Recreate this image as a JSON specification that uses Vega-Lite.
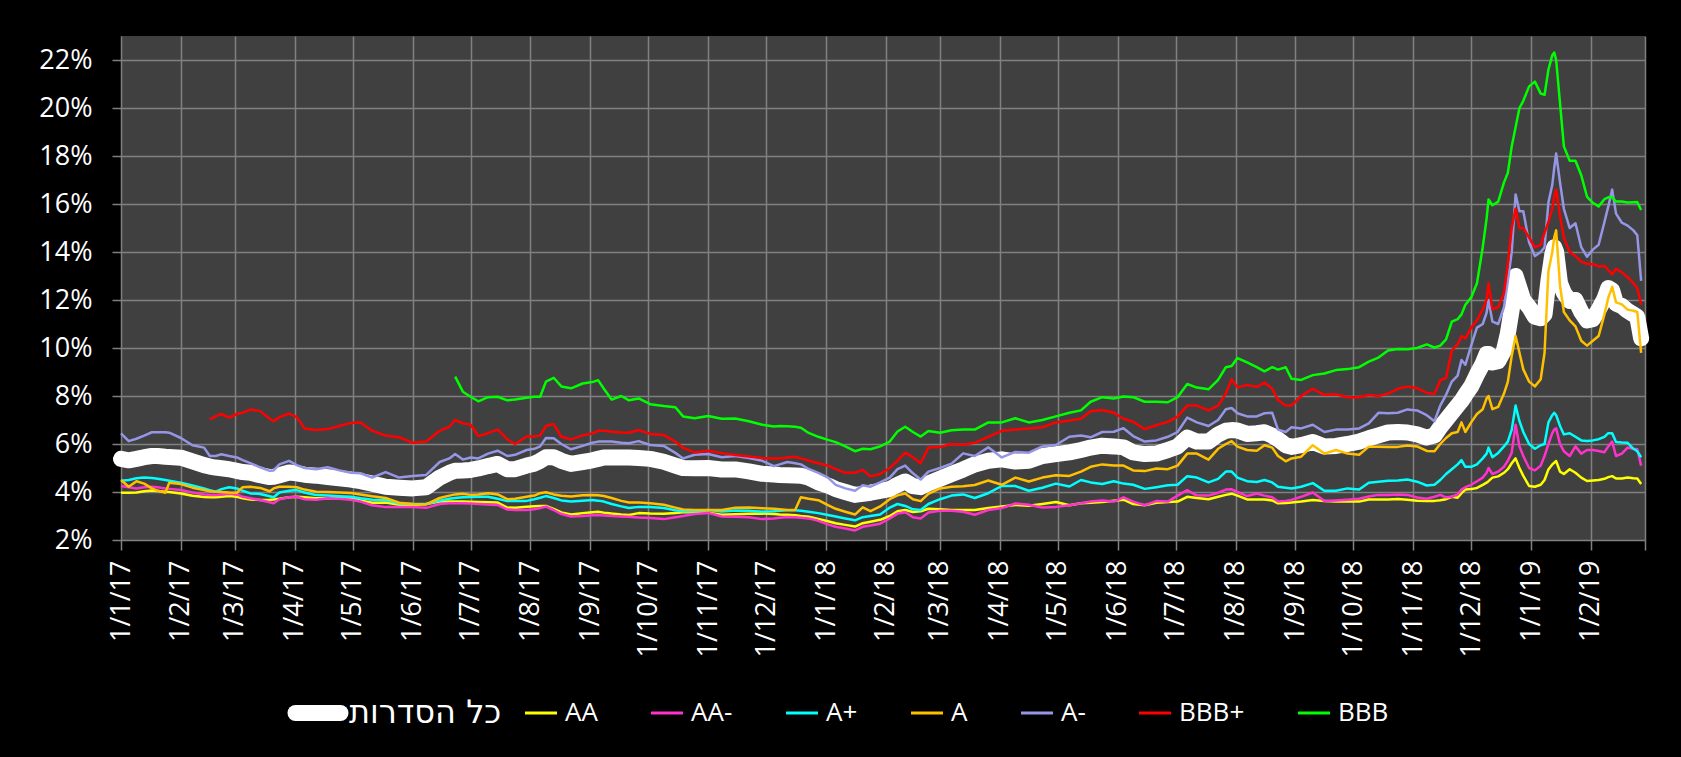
{
"$schema":"https://vega.github.io/schema/vega-lite/v6.json",
"width":1524,"height":504,
"autosize":{"type":"none"},
"padding":{"left":121,"top":36,"right":36,"bottom":217},
"background":"#000000",
"config":{
 "view":{"fill":"#404040","stroke":null},
 "font":"Open Sans",
 "axis":{"gridColor":"#808080","gridWidth":1.5,"gridOpacity":1,"tickColor":"#808080","tickWidth":1.5,"domain":false,"labelColor":"#ffffff","labelFont":"Open Sans","labelFontSize":27,"title":null}
},
"data":{"values":[
{"d":"2017-01-01","all":5.38,"AA":3.97,"AA-":4.25,"A+":4.47,"A":4.5,"A-":6.44},
{"d":"2017-01-05","all":5.32,"AA":3.97,"AA-":4.2,"A+":4.5,"A":4.22,"A-":6.12},
{"d":"2017-01-09","all":5.38,"AA":3.98,"AA-":4.15,"A+":4.57,"A":4.45,"A-":6.22},
{"d":"2017-01-13","all":5.45,"AA":4.03,"AA-":4.2,"A+":4.6,"A":4.35,"A-":6.35},
{"d":"2017-01-17","all":5.5,"AA":4.06,"AA-":4.22,"A+":4.58,"A":4.15,"A-":6.49},
{"d":"2017-01-20","all":5.5,"AA":4.04,"AA-":4.2,"A+":4.55,"A":4.05,"A-":6.49},
{"d":"2017-01-24","all":5.47,"AA":4.01,"AA-":4.15,"A+":4.5,"A":3.97,"A-":6.49},
{"d":"2017-01-26","all":5.46,"AA":4.0,"AA-":4.13,"A+":4.47,"A":4.39,"A-":6.47},
{"d":"2017-02-01","all":5.43,"AA":3.94,"AA-":4.08,"A+":4.39,"A":4.33,"A-":6.25},
{"d":"2017-02-07","all":5.28,"AA":3.84,"AA-":3.98,"A+":4.27,"A":4.18,"A-":5.95},
{"d":"2017-02-13","all":5.12,"AA":3.79,"AA-":3.9,"A+":4.15,"A":4.08,"A-":5.85},
{"d":"2017-02-16","all":5.06,"AA":3.78,"AA-":3.88,"A+":4.08,"A":4.03,"A-":5.5,"BBB+":7.03},
{"d":"2017-02-19","all":5.02,"AA":3.78,"AA-":3.87,"A+":4.01,"A":4.01,"A-":5.5,"BBB+":7.15},
{"d":"2017-02-22","all":4.99,"AA":3.8,"AA-":3.9,"A+":4.12,"A":4.0,"A-":5.57,"BBB+":7.25},
{"d":"2017-02-26","all":4.95,"AA":3.83,"AA-":3.93,"A+":4.2,"A":3.98,"A-":5.5,"BBB+":7.1},
{"d":"2017-03-02","all":4.88,"AA":3.8,"AA-":3.9,"A+":4.15,"A":3.97,"A-":5.44,"BBB+":7.25},
{"d":"2017-03-05","all":4.83,"AA":3.74,"AA-":3.8,"A+":4.05,"A":4.2,"A-":5.33,"BBB+":7.3},
{"d":"2017-03-09","all":4.8,"AA":3.69,"AA-":3.74,"A+":3.94,"A":4.22,"A-":5.2,"BBB+":7.44},
{"d":"2017-03-14","all":4.7,"AA":3.67,"AA-":3.67,"A+":3.92,"A":4.17,"A-":5.03,"BBB+":7.37},
{"d":"2017-03-19","all":4.62,"AA":3.68,"AA-":3.57,"A+":3.82,"A":4.03,"A-":4.88,"BBB+":7.05},
{"d":"2017-03-21","all":4.63,"AA":3.69,"AA-":3.53,"A+":3.78,"A":4.15,"A-":4.9,"BBB+":6.95},
{"d":"2017-03-24","all":4.7,"AA":3.72,"AA-":3.7,"A+":3.98,"A":4.22,"A-":5.15,"BBB+":7.12},
{"d":"2017-03-29","all":4.81,"AA":3.78,"AA-":3.78,"A+":4.05,"A":4.22,"A-":5.3,"BBB+":7.27},
{"d":"2017-04-02","all":4.78,"AA":3.8,"AA-":3.8,"A+":4.08,"A":4.2,"A-":5.12,"BBB+":7.12},
{"d":"2017-04-06","all":4.72,"AA":3.78,"AA-":3.7,"A+":3.98,"A":4.1,"A-":5.0,"BBB+":6.65},
{"d":"2017-04-12","all":4.68,"AA":3.74,"AA-":3.68,"A+":3.87,"A":4.01,"A-":4.95,"BBB+":6.58},
{"d":"2017-04-18","all":4.62,"AA":3.74,"AA-":3.74,"A+":3.85,"A":4.0,"A-":5.03,"BBB+":6.62},
{"d":"2017-04-24","all":4.57,"AA":3.74,"AA-":3.72,"A+":3.82,"A":3.98,"A-":4.9,"BBB+":6.75},
{"d":"2017-04-30","all":4.52,"AA":3.73,"AA-":3.68,"A+":3.8,"A":3.96,"A-":4.8,"BBB+":6.88},
{"d":"2017-05-05","all":4.45,"AA":3.65,"AA-":3.6,"A+":3.74,"A":3.9,"A-":4.78,"BBB+":6.9},
{"d":"2017-05-11","all":4.35,"AA":3.55,"AA-":3.45,"A+":3.68,"A":3.82,"A-":4.6,"BBB+":6.55},
{"d":"2017-05-18","all":4.22,"AA":3.56,"AA-":3.37,"A+":3.67,"A":3.75,"A-":4.83,"BBB+":6.35},
{"d":"2017-05-25","all":4.18,"AA":3.47,"AA-":3.38,"A+":3.52,"A":3.55,"A-":4.6,"BBB+":6.28},
{"d":"2017-06-01","all":4.15,"AA":3.46,"AA-":3.37,"A+":3.5,"A":3.5,"A-":4.67,"BBB+":6.05},
{"d":"2017-06-08","all":4.2,"AA":3.5,"AA-":3.34,"A+":3.5,"A":3.48,"A-":4.71,"BBB+":6.1},
{"d":"2017-06-15","all":4.6,"AA":3.6,"AA-":3.5,"A+":3.64,"A":3.75,"A-":5.25,"BBB+":6.55},
{"d":"2017-06-20","all":4.8,"AA":3.6,"AA-":3.53,"A+":3.72,"A":3.85,"A-":5.4,"BBB+":6.72},
{"d":"2017-06-23","all":4.89,"AA":3.6,"AA-":3.53,"A+":3.75,"A":3.9,"A-":5.58,"BBB+":7.0,"BBB":8.81},
{"d":"2017-06-27","all":4.9,"AA":3.6,"AA-":3.53,"A+":3.78,"A":3.93,"A-":5.35,"BBB+":6.86,"BBB":8.18},
{"d":"2017-07-01","all":4.92,"AA":3.59,"AA-":3.52,"A+":3.79,"A":3.88,"A-":5.44,"BBB+":6.8,"BBB":7.97},
{"d":"2017-07-05","all":4.98,"AA":3.58,"AA-":3.5,"A+":3.8,"A":3.9,"A-":5.4,"BBB+":6.33,"BBB":7.78},
{"d":"2017-07-10","all":5.08,"AA":3.57,"AA-":3.48,"A+":3.8,"A":3.95,"A-":5.6,"BBB+":6.45,"BBB":7.95},
{"d":"2017-07-15","all":5.17,"AA":3.56,"AA-":3.46,"A+":3.72,"A":3.9,"A-":5.72,"BBB+":6.6,"BBB":7.97},
{"d":"2017-07-20","all":4.95,"AA":3.35,"AA-":3.27,"A+":3.62,"A":3.7,"A-":5.5,"BBB+":6.2,"BBB":7.82},
{"d":"2017-07-24","all":4.95,"AA":3.34,"AA-":3.25,"A+":3.62,"A":3.72,"A-":5.55,"BBB+":6.0,"BBB":7.85},
{"d":"2017-07-30","all":5.1,"AA":3.39,"AA-":3.25,"A+":3.63,"A":3.8,"A-":5.75,"BBB+":6.31,"BBB":7.93},
{"d":"2017-08-03","all":5.18,"AA":3.41,"AA-":3.28,"A+":3.7,"A":3.85,"A-":5.8,"BBB+":6.31,"BBB":7.97},
{"d":"2017-08-06","all":5.3,"AA":3.42,"AA-":3.33,"A+":3.76,"A":3.95,"A-":5.9,"BBB+":6.36,"BBB":7.97},
{"d":"2017-08-09","all":5.45,"AA":3.42,"AA-":3.39,"A+":3.83,"A":3.99,"A-":6.25,"BBB+":6.75,"BBB":8.6},
{"d":"2017-08-13","all":5.45,"AA":3.3,"AA-":3.25,"A+":3.75,"A":3.9,"A-":6.24,"BBB+":6.83,"BBB":8.76},
{"d":"2017-08-17","all":5.3,"AA":3.15,"AA-":3.08,"A+":3.65,"A":3.84,"A-":6.0,"BBB+":6.3,"BBB":8.4},
{"d":"2017-08-22","all":5.17,"AA":3.06,"AA-":2.98,"A+":3.6,"A":3.81,"A-":5.78,"BBB+":6.19,"BBB":8.32},
{"d":"2017-08-28","all":5.25,"AA":3.12,"AA-":3.0,"A+":3.64,"A":3.86,"A-":5.92,"BBB+":6.36,"BBB":8.52},
{"d":"2017-09-02","all":5.32,"AA":3.16,"AA-":3.03,"A+":3.67,"A":3.88,"A-":6.05,"BBB+":6.44,"BBB":8.58},
{"d":"2017-09-05","all":5.38,"AA":3.18,"AA-":3.04,"A+":3.64,"A":3.86,"A-":6.1,"BBB+":6.55,"BBB":8.66},
{"d":"2017-09-08","all":5.44,"AA":3.14,"AA-":3.02,"A+":3.6,"A":3.83,"A-":6.1,"BBB+":6.55,"BBB":8.3},
{"d":"2017-09-12","all":5.44,"AA":3.1,"AA-":3.0,"A+":3.5,"A":3.75,"A-":6.1,"BBB+":6.51,"BBB":7.85},
{"d":"2017-09-17","all":5.44,"AA":3.06,"AA-":2.98,"A+":3.4,"A":3.63,"A-":6.05,"BBB+":6.48,"BBB":8.0},
{"d":"2017-09-21","all":5.44,"AA":3.04,"AA-":2.97,"A+":3.33,"A":3.56,"A-":6.03,"BBB+":6.47,"BBB":7.82},
{"d":"2017-09-26","all":5.42,"AA":3.12,"AA-":2.94,"A+":3.38,"A":3.56,"A-":6.12,"BBB+":6.58,"BBB":7.9},
{"d":"2017-10-02","all":5.38,"AA":3.1,"AA-":2.92,"A+":3.37,"A":3.53,"A-":5.96,"BBB+":6.42,"BBB":7.66},
{"d":"2017-10-09","all":5.26,"AA":3.09,"AA-":2.87,"A+":3.33,"A":3.47,"A-":5.92,"BBB+":6.37,"BBB":7.58},
{"d":"2017-10-15","all":5.1,"AA":3.13,"AA-":2.95,"A+":3.24,"A":3.35,"A-":5.63,"BBB+":6.1,"BBB":7.53},
{"d":"2017-10-19","all":5.0,"AA":3.16,"AA-":3.0,"A+":3.2,"A":3.27,"A-":5.4,"BBB+":5.84,"BBB":7.15},
{"d":"2017-10-25","all":4.99,"AA":3.17,"AA-":3.08,"A+":3.2,"A":3.25,"A-":5.55,"BBB+":5.65,"BBB":7.07},
{"d":"2017-11-01","all":5.0,"AA":3.14,"AA-":3.13,"A+":3.25,"A":3.25,"A-":5.58,"BBB+":5.72,"BBB":7.17},
{"d":"2017-11-08","all":4.94,"AA":3.05,"AA-":2.98,"A+":3.19,"A":3.25,"A-":5.45,"BBB+":5.62,"BBB":7.05},
{"d":"2017-11-15","all":4.94,"AA":3.07,"AA-":2.97,"A+":3.23,"A":3.34,"A-":5.5,"BBB+":5.54,"BBB":7.06},
{"d":"2017-11-22","all":4.86,"AA":3.09,"AA-":2.95,"A+":3.22,"A":3.35,"A-":5.42,"BBB+":5.48,"BBB":6.95},
{"d":"2017-11-29","all":4.76,"AA":3.1,"AA-":2.87,"A+":3.18,"A":3.32,"A-":5.3,"BBB+":5.42,"BBB":6.8},
{"d":"2017-12-05","all":4.73,"AA":3.08,"AA-":2.9,"A+":3.2,"A":3.3,"A-":5.08,"BBB+":5.4,"BBB":6.73},
{"d":"2017-12-08","all":4.71,"AA":3.06,"AA-":2.93,"A+":3.22,"A":3.28,"A-":5.15,"BBB+":5.4,"BBB":6.75},
{"d":"2017-12-12","all":4.7,"AA":3.05,"AA-":2.96,"A+":3.24,"A":3.25,"A-":5.25,"BBB+":5.44,"BBB":6.74},
{"d":"2017-12-16","all":4.69,"AA":3.03,"AA-":2.95,"A+":3.24,"A":3.25,"A-":5.2,"BBB+":5.47,"BBB":6.72},
{"d":"2017-12-19","all":4.68,"AA":3.0,"AA-":2.93,"A+":3.22,"A":3.78,"A-":5.15,"BBB+":5.4,"BBB":6.68},
{"d":"2017-12-23","all":4.6,"AA":2.97,"AA-":2.9,"A+":3.18,"A":3.72,"A-":4.96,"BBB+":5.3,"BBB":6.46},
{"d":"2017-12-28","all":4.4,"AA":2.88,"AA-":2.8,"A+":3.12,"A":3.66,"A-":4.8,"BBB+":5.2,"BBB":6.3},
{"d":"2018-01-02","all":4.27,"AA":2.78,"AA-":2.65,"A+":3.04,"A":3.45,"A-":4.6,"BBB+":5.1,"BBB":6.17},
{"d":"2018-01-06","all":4.12,"AA":2.7,"AA-":2.55,"A+":2.98,"A":3.3,"A-":4.3,"BBB+":4.95,"BBB":6.08},
{"d":"2018-01-11","all":4.0,"AA":2.63,"AA-":2.48,"A+":2.9,"A":3.18,"A-":4.15,"BBB+":4.8,"BBB":5.9},
{"d":"2018-01-16","all":3.88,"AA":2.56,"AA-":2.4,"A+":2.82,"A":3.06,"A-":4.05,"BBB+":4.8,"BBB":5.7},
{"d":"2018-01-20","all":3.92,"AA":2.7,"AA-":2.55,"A+":2.95,"A":3.36,"A-":4.28,"BBB+":4.92,"BBB":5.8},
{"d":"2018-01-24","all":3.97,"AA":2.76,"AA-":2.6,"A+":3.0,"A":3.2,"A-":4.22,"BBB+":4.65,"BBB":5.78},
{"d":"2018-01-29","all":4.05,"AA":2.84,"AA-":2.68,"A+":3.06,"A":3.4,"A-":4.4,"BBB+":4.75,"BBB":5.9},
{"d":"2018-02-03","all":4.12,"AA":3.0,"AA-":2.9,"A+":3.35,"A":3.7,"A-":4.6,"BBB+":5.0,"BBB":6.1},
{"d":"2018-02-07","all":4.3,"AA":3.2,"AA-":3.1,"A+":3.5,"A":3.86,"A-":4.95,"BBB+":5.3,"BBB":6.52},
{"d":"2018-02-11","all":4.44,"AA":3.25,"AA-":3.16,"A+":3.42,"A":3.94,"A-":5.1,"BBB+":5.64,"BBB":6.72},
{"d":"2018-02-15","all":4.25,"AA":3.17,"AA-":2.95,"A+":3.28,"A":3.7,"A-":4.78,"BBB+":5.45,"BBB":6.5},
{"d":"2018-02-19","all":4.2,"AA":3.2,"AA-":2.9,"A+":3.25,"A":3.62,"A-":4.52,"BBB+":5.2,"BBB":6.31},
{"d":"2018-02-23","all":4.36,"AA":3.3,"AA-":3.15,"A+":3.5,"A":3.92,"A-":4.85,"BBB+":5.85,"BBB":6.54},
{"d":"2018-03-01","all":4.55,"AA":3.28,"AA-":3.22,"A+":3.7,"A":4.15,"A-":5.0,"BBB+":5.87,"BBB":6.47},
{"d":"2018-03-07","all":4.75,"AA":3.25,"AA-":3.22,"A+":3.85,"A":4.22,"A-":5.18,"BBB+":6.0,"BBB":6.57},
{"d":"2018-03-13","all":4.94,"AA":3.25,"AA-":3.18,"A+":3.9,"A":4.24,"A-":5.61,"BBB+":5.97,"BBB":6.6},
{"d":"2018-03-19","all":5.15,"AA":3.25,"AA-":3.05,"A+":3.75,"A":4.29,"A-":5.5,"BBB+":6.05,"BBB":6.6},
{"d":"2018-03-26","all":5.3,"AA":3.33,"AA-":3.25,"A+":3.95,"A":4.48,"A-":5.86,"BBB+":6.3,"BBB":6.9},
{"d":"2018-04-02","all":5.36,"AA":3.4,"AA-":3.33,"A+":4.25,"A":4.3,"A-":5.44,"BBB+":6.55,"BBB":6.9},
{"d":"2018-04-09","all":5.27,"AA":3.46,"AA-":3.52,"A+":4.25,"A":4.6,"A-":5.67,"BBB+":6.6,"BBB":7.07},
{"d":"2018-04-16","all":5.3,"AA":3.43,"AA-":3.47,"A+":4.05,"A":4.44,"A-":5.64,"BBB+":6.65,"BBB":6.9},
{"d":"2018-04-23","all":5.5,"AA":3.5,"AA-":3.35,"A+":4.18,"A":4.6,"A-":5.9,"BBB+":6.7,"BBB":7.0},
{"d":"2018-04-30","all":5.58,"AA":3.58,"AA-":3.38,"A+":4.35,"A":4.7,"A-":5.96,"BBB+":6.9,"BBB":7.15},
{"d":"2018-05-07","all":5.65,"AA":3.45,"AA-":3.45,"A+":4.23,"A":4.67,"A-":6.3,"BBB+":6.98,"BBB":7.3},
{"d":"2018-05-13","all":5.75,"AA":3.53,"AA-":3.53,"A+":4.5,"A":4.85,"A-":6.35,"BBB+":7.05,"BBB":7.4},
{"d":"2018-05-18","all":5.85,"AA":3.55,"AA-":3.6,"A+":4.4,"A":5.05,"A-":6.28,"BBB+":7.36,"BBB":7.76},
{"d":"2018-05-24","all":5.93,"AA":3.58,"AA-":3.65,"A+":4.33,"A":5.15,"A-":6.5,"BBB+":7.42,"BBB":7.95},
{"d":"2018-05-30","all":5.9,"AA":3.64,"AA-":3.6,"A+":4.45,"A":5.1,"A-":6.51,"BBB+":7.3,"BBB":7.9},
{"d":"2018-06-04","all":5.86,"AA":3.68,"AA-":3.78,"A+":4.35,"A":5.1,"A-":6.66,"BBB+":7.05,"BBB":7.98},
{"d":"2018-06-09","all":5.65,"AA":3.5,"AA-":3.6,"A+":4.3,"A":4.9,"A-":6.33,"BBB+":6.93,"BBB":7.95},
{"d":"2018-06-15","all":5.58,"AA":3.45,"AA-":3.45,"A+":4.13,"A":4.87,"A-":6.1,"BBB+":6.62,"BBB":7.76},
{"d":"2018-06-21","all":5.6,"AA":3.55,"AA-":3.62,"A+":4.2,"A":4.98,"A-":6.15,"BBB+":6.78,"BBB":7.76},
{"d":"2018-06-27","all":5.75,"AA":3.58,"AA-":3.6,"A+":4.28,"A":4.95,"A-":6.3,"BBB+":6.92,"BBB":7.74},
{"d":"2018-07-02","all":5.9,"AA":3.6,"AA-":3.85,"A+":4.3,"A":5.1,"A-":6.5,"BBB+":7.14,"BBB":7.95},
{"d":"2018-07-07","all":6.27,"AA":3.8,"AA-":4.08,"A+":4.66,"A":5.6,"A-":7.1,"BBB+":7.6,"BBB":8.5},
{"d":"2018-07-12","all":6.1,"AA":3.75,"AA-":3.85,"A+":4.6,"A":5.6,"A-":6.9,"BBB+":7.6,"BBB":8.35},
{"d":"2018-07-18","all":6.1,"AA":3.7,"AA-":3.85,"A+":4.4,"A":5.35,"A-":6.75,"BBB+":7.4,"BBB":8.28},
{"d":"2018-07-23","all":6.4,"AA":3.8,"AA-":3.97,"A+":4.55,"A":5.8,"A-":7.0,"BBB+":7.6,"BBB":8.67},
{"d":"2018-07-27","all":6.55,"AA":3.88,"AA-":4.1,"A+":4.85,"A":6.0,"A-":7.45,"BBB+":8.1,"BBB":9.2},
{"d":"2018-07-30","all":6.58,"AA":3.93,"AA-":4.11,"A+":4.85,"A":6.12,"A-":7.5,"BBB+":8.7,"BBB":9.25},
{"d":"2018-08-02","all":6.56,"AA":3.85,"AA-":4.0,"A+":4.6,"A":5.89,"A-":7.28,"BBB+":8.36,"BBB":9.58},
{"d":"2018-08-07","all":6.42,"AA":3.69,"AA-":3.83,"A+":4.45,"A":5.75,"A-":7.15,"BBB+":8.46,"BBB":9.4},
{"d":"2018-08-12","all":6.45,"AA":3.69,"AA-":3.94,"A+":4.42,"A":5.72,"A-":7.15,"BBB+":8.38,"BBB":9.2},
{"d":"2018-08-16","all":6.49,"AA":3.69,"AA-":3.85,"A+":4.5,"A":5.95,"A-":7.28,"BBB+":8.56,"BBB":9.03},
{"d":"2018-08-20","all":6.35,"AA":3.65,"AA-":3.78,"A+":4.4,"A":5.85,"A-":7.3,"BBB+":8.3,"BBB":9.2},
{"d":"2018-08-23","all":6.2,"AA":3.53,"AA-":3.6,"A+":4.22,"A":5.5,"A-":6.6,"BBB+":7.83,"BBB":9.1},
{"d":"2018-08-27","all":5.95,"AA":3.54,"AA-":3.63,"A+":4.18,"A":5.28,"A-":6.5,"BBB+":7.6,"BBB":9.2},
{"d":"2018-08-30","all":5.88,"AA":3.56,"AA-":3.67,"A+":4.15,"A":5.4,"A-":6.7,"BBB+":7.6,"BBB":8.72},
{"d":"2018-09-04","all":5.95,"AA":3.6,"AA-":3.8,"A+":4.22,"A":5.47,"A-":6.65,"BBB+":8.0,"BBB":8.67},
{"d":"2018-09-10","all":6.08,"AA":3.67,"AA-":3.98,"A+":4.37,"A":5.95,"A-":6.8,"BBB+":8.3,"BBB":8.87},
{"d":"2018-09-16","all":5.9,"AA":3.63,"AA-":3.62,"A+":4.05,"A":5.6,"A-":6.5,"BBB+":8.05,"BBB":8.94},
{"d":"2018-09-22","all":5.92,"AA":3.6,"AA-":3.65,"A+":4.05,"A":5.75,"A-":6.6,"BBB+":8.07,"BBB":9.08},
{"d":"2018-09-28","all":6.0,"AA":3.6,"AA-":3.68,"A+":4.15,"A":5.6,"A-":6.6,"BBB+":7.95,"BBB":9.12},
{"d":"2018-10-04","all":6.1,"AA":3.6,"AA-":3.72,"A+":4.1,"A":5.55,"A-":6.65,"BBB+":7.95,"BBB":9.2},
{"d":"2018-10-09","all":6.24,"AA":3.69,"AA-":3.81,"A+":4.39,"A":5.89,"A-":6.86,"BBB+":8.04,"BBB":9.43},
{"d":"2018-10-14","all":6.36,"AA":3.69,"AA-":3.88,"A+":4.43,"A":5.89,"A-":7.3,"BBB+":8.0,"BBB":9.6},
{"d":"2018-10-19","all":6.48,"AA":3.69,"AA-":3.88,"A+":4.47,"A":5.88,"A-":7.28,"BBB+":8.1,"BBB":9.9},
{"d":"2018-10-24","all":6.5,"AA":3.71,"AA-":3.9,"A+":4.48,"A":5.88,"A-":7.3,"BBB+":8.3,"BBB":9.96},
{"d":"2018-10-29","all":6.48,"AA":3.68,"AA-":3.88,"A+":4.52,"A":5.94,"A-":7.44,"BBB+":8.39,"BBB":9.95},
{"d":"2018-11-03","all":6.4,"AA":3.64,"AA-":3.77,"A+":4.43,"A":5.9,"A-":7.4,"BBB+":8.33,"BBB":10.0},
{"d":"2018-11-08","all":6.27,"AA":3.63,"AA-":3.72,"A+":4.27,"A":5.71,"A-":7.2,"BBB+":8.13,"BBB":10.15},
{"d":"2018-11-12","all":6.35,"AA":3.63,"AA-":3.8,"A+":4.3,"A":5.7,"A-":6.95,"BBB+":8.08,"BBB":10.02},
{"d":"2018-11-15","all":6.7,"AA":3.66,"AA-":3.88,"A+":4.5,"A":6.0,"A-":7.6,"BBB+":8.65,"BBB":10.1},
{"d":"2018-11-18","all":7.0,"AA":3.7,"AA-":3.78,"A+":4.75,"A":6.25,"A-":8.05,"BBB+":8.76,"BBB":10.36},
{"d":"2018-11-21","all":7.3,"AA":3.8,"AA-":3.8,"A+":4.95,"A":6.45,"A-":8.6,"BBB+":9.9,"BBB":11.1},
{"d":"2018-11-24","all":7.6,"AA":3.76,"AA-":3.9,"A+":5.15,"A":6.5,"A-":8.85,"BBB+":10.15,"BBB":11.2},
{"d":"2018-11-26","all":7.8,"AA":3.95,"AA-":4.1,"A+":5.33,"A":6.9,"A-":9.5,"BBB+":10.5,"BBB":11.4},
{"d":"2018-11-28","all":8.05,"AA":4.1,"AA-":4.2,"A+":5.05,"A":6.5,"A-":9.3,"BBB+":10.4,"BBB":11.8},
{"d":"2018-12-01","all":8.4,"AA":4.12,"AA-":4.3,"A+":5.05,"A":6.9,"A-":10.1,"BBB+":10.85,"BBB":12.1},
{"d":"2018-12-04","all":8.9,"AA":4.17,"AA-":4.45,"A+":5.15,"A":7.25,"A-":10.85,"BBB+":11.15,"BBB":12.7},
{"d":"2018-12-07","all":9.35,"AA":4.3,"AA-":4.6,"A+":5.4,"A":7.45,"A-":11.0,"BBB+":11.6,"BBB":14.2},
{"d":"2018-12-09","all":9.75,"AA":4.39,"AA-":4.8,"A+":5.6,"A":7.9,"A-":11.47,"BBB+":12.03,"BBB":15.4},
{"d":"2018-12-10","all":9.75,"AA":4.45,"AA-":5.0,"A+":5.85,"A":8.0,"A-":12.0,"BBB+":12.7,"BBB":16.19},
{"d":"2018-12-12","all":9.4,"AA":4.6,"AA-":4.75,"A+":5.45,"A":7.45,"A-":11.1,"BBB+":11.6,"BBB":15.95},
{"d":"2018-12-15","all":9.45,"AA":4.65,"AA-":4.85,"A+":5.63,"A":7.55,"A-":11.0,"BBB+":11.7,"BBB":16.1},
{"d":"2018-12-18","all":9.9,"AA":4.8,"AA-":5.05,"A+":5.9,"A":8.1,"A-":11.7,"BBB+":12.3,"BBB":16.9},
{"d":"2018-12-20","all":10.6,"AA":4.95,"AA-":5.3,"A+":6.1,"A":8.6,"A-":12.8,"BBB+":13.5,"BBB":17.3},
{"d":"2018-12-22","all":11.6,"AA":5.2,"AA-":5.64,"A+":6.6,"A":9.67,"A-":14.0,"BBB+":15.0,"BBB":18.4},
{"d":"2018-12-24","all":13.0,"AA":5.4,"AA-":6.8,"A+":7.6,"A":10.5,"A-":16.4,"BBB+":15.8,"BBB":19.2},
{"d":"2018-12-26","all":12.5,"AA":5.0,"AA-":5.9,"A+":6.95,"A":9.8,"A-":15.7,"BBB+":15.0,"BBB":20.0},
{"d":"2018-12-28","all":12.0,"AA":4.67,"AA-":5.5,"A+":6.5,"A":9.11,"A-":15.7,"BBB+":15.0,"BBB":20.3},
{"d":"2018-12-31","all":11.7,"AA":4.25,"AA-":5.0,"A+":6.0,"A":8.6,"A-":14.4,"BBB+":14.6,"BBB":20.9},
{"d":"2019-01-03","all":11.3,"AA":4.22,"AA-":4.9,"A+":5.8,"A":8.4,"A-":13.83,"BBB+":14.2,"BBB":21.1},
{"d":"2019-01-06","all":11.24,"AA":4.3,"AA-":5.1,"A+":5.95,"A":8.7,"A-":14.0,"BBB+":14.3,"BBB":20.6},
{"d":"2019-01-08","all":11.4,"AA":4.5,"AA-":5.5,"A+":6.0,"A":9.8,"A-":14.2,"BBB+":14.8,"BBB":20.55},
{"d":"2019-01-10","all":12.8,"AA":4.94,"AA-":6.0,"A+":6.9,"A":13.2,"A-":16.06,"BBB+":15.25,"BBB":21.6},
{"d":"2019-01-12","all":13.9,"AA":5.15,"AA-":6.45,"A+":7.2,"A":14.0,"A-":16.8,"BBB+":15.8,"BBB":22.2},
{"d":"2019-01-13","all":14.2,"AA":5.22,"AA-":6.6,"A+":7.3,"A":14.6,"A-":17.5,"BBB+":16.3,"BBB":22.31},
{"d":"2019-01-14","all":14.0,"AA":5.29,"AA-":6.65,"A+":7.2,"A":14.9,"A-":18.1,"BBB+":16.6,"BBB":22.0},
{"d":"2019-01-16","all":12.7,"AA":4.85,"AA-":6.0,"A+":6.75,"A":12.6,"A-":16.9,"BBB+":15.5,"BBB":20.2},
{"d":"2019-01-18","all":12.3,"AA":4.75,"AA-":5.7,"A+":6.4,"A":11.5,"A-":15.8,"BBB+":14.6,"BBB":18.4},
{"d":"2019-01-21","all":11.96,"AA":4.95,"AA-":5.5,"A+":6.45,"A":11.15,"A-":15.0,"BBB+":14.0,"BBB":17.8},
{"d":"2019-01-24","all":12.0,"AA":4.8,"AA-":5.9,"A+":6.3,"A":10.9,"A-":15.2,"BBB+":13.83,"BBB":17.8},
{"d":"2019-01-27","all":11.5,"AA":4.6,"AA-":5.6,"A+":6.15,"A":10.3,"A-":14.2,"BBB+":13.6,"BBB":17.2},
{"d":"2019-01-30","all":11.15,"AA":4.46,"AA-":5.75,"A+":6.13,"A":10.1,"A-":13.8,"BBB+":13.5,"BBB":16.3},
{"d":"2019-02-02","all":11.2,"AA":4.48,"AA-":5.75,"A+":6.15,"A":10.3,"A-":14.1,"BBB+":13.5,"BBB":16.05},
{"d":"2019-02-05","all":11.6,"AA":4.5,"AA-":5.71,"A+":6.2,"A":10.5,"A-":14.3,"BBB+":13.4,"BBB":15.9},
{"d":"2019-02-08","all":12.05,"AA":4.55,"AA-":5.66,"A+":6.3,"A":11.4,"A-":15.25,"BBB+":13.42,"BBB":16.2},
{"d":"2019-02-10","all":12.5,"AA":4.62,"AA-":5.9,"A+":6.45,"A":12.1,"A-":15.9,"BBB+":13.25,"BBB":16.28},
{"d":"2019-02-12","all":12.4,"AA":4.66,"AA-":6.1,"A+":6.45,"A":12.55,"A-":16.6,"BBB+":13.07,"BBB":16.28},
{"d":"2019-02-14","all":11.85,"AA":4.56,"AA-":5.5,"A+":6.08,"A":11.9,"A-":15.6,"BBB+":13.3,"BBB":16.1},
{"d":"2019-02-17","all":11.75,"AA":4.56,"AA-":5.6,"A+":6.06,"A":11.82,"A-":15.22,"BBB+":13.15,"BBB":16.1},
{"d":"2019-02-20","all":11.55,"AA":4.6,"AA-":5.85,"A+":6.05,"A":11.6,"A-":15.1,"BBB+":12.95,"BBB":16.06},
{"d":"2019-02-23","all":11.4,"AA":4.57,"AA-":5.8,"A+":5.8,"A":11.55,"A-":14.9,"BBB+":12.7,"BBB":16.07},
{"d":"2019-02-25","all":11.3,"AA":4.56,"AA-":5.78,"A+":5.7,"A":11.5,"A-":14.7,"BBB+":12.5,"BBB":16.08},
{"d":"2019-02-27","all":10.4,"AA":4.33,"AA-":5.1,"A+":5.45,"A":9.8,"A-":12.8,"BBB+":11.8,"BBB":15.75}
]},
"transform":[
 {"fold":["all","AA","AA-","A+","A","A-","BBB+","BBB"],"as":["series","value"]},
 {"filter":"isValid(datum.value)"}
],
"encoding":{
 "x":{"field":"d","type":"temporal","scale":{"type":"utc","domain":[1483228800000,1551398400000]},
  "axis":{"tickCount":{"interval":"month","step":1},"labelAngle":270,"labelOverlap":false,"labelFlush":false,"tickSize":10,"labelPadding":10,
   "labelExpr":"datum.value >= 1551398400000 ? '' : utcFormat(datum.value, '%-d/%-m/%y')"}},
 "y":{"field":"value","type":"quantitative","scale":{"domain":[2,23],"nice":false,"zero":false},
  "axis":{"values":[2,4,6,8,10,12,14,16,18,20,22],"tickSize":9,"labelPadding":20,"labelExpr":"datum.value + '%'"}}
},
"layer":[
 {"transform":[{"filter":"datum.series === 'all'"}],
  "mark":{"type":"line","strokeWidth":16,"strokeCap":"round","strokeJoin":"round"},
  "encoding":{"color":{"field":"series","type":"nominal",
   "scale":{"domain":["all"],"range":["#ffffff"]},
   "legend":{"orient":"none","legendX":166,"legendY":659,"direction":"horizontal","title":null,"symbolType":"stroke","symbolStrokeWidth":16,"symbolSize":2025,
    "labelColor":"#ffffff","labelFont":"DejaVu Sans","labelFontSize":32,
    "labelExpr":"'כל הסדרות'",
    "encode":{
     "symbols":{"update":{"x":{"value":31},"y":{"value":18},"strokeCap":{"value":"round"}}},
     "labels":{"update":{"x":{"value":62},"y":{"value":18},"baseline":{"value":"middle"}}}}}}}},
 {"transform":[{"filter":"datum.series !== 'all'"}],
  "mark":{"type":"line","strokeWidth":2.5,"strokeJoin":"round"},
  "encoding":{"color":{"field":"series","type":"nominal",
   "scale":{"domain":["AA","AA-","A+","A","A-","BBB+","BBB"],"range":["#ffff00","#ff33cc","#00ffff","#ffc000","#9696e6","#ff0000","#00ff00"]},
   "legend":{"orient":"none","legendX":404,"legendY":659,"direction":"horizontal","title":null,"symbolType":"stroke","symbolStrokeWidth":3,"symbolSize":1024,
    "labelColor":"#ffffff","labelFont":"Open Sans","labelFontSize":26,"columnPadding":47,
    "encode":{
     "symbols":{"update":{"x":{"value":16},"y":{"value":18}}},
     "labels":{"update":{"x":{"value":40},"y":{"value":18},"baseline":{"value":"middle"}}}}}}}}
],
"resolve":{"scale":{"color":"independent"},"legend":{"color":"independent"}}
}
